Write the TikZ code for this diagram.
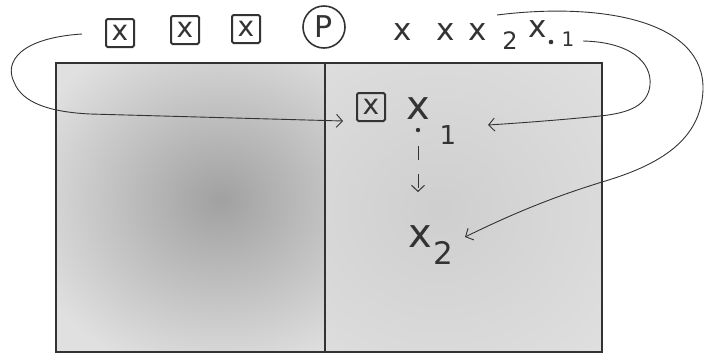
\documentclass[tikz,border=0pt]{standalone}
\usepackage{fontspec}
\setmainfont{DejaVu Sans}
\usetikzlibrary{arrows.meta}

\definecolor{pencil}{gray}{0.2}
\definecolor{paperlight}{gray}{0.88}
\definecolor{paperdark}{gray}{0.63}
\definecolor{papermid}{gray}{0.81}

\begin{document}
\begin{tikzpicture}[x=1pt,y=-1pt,
  glyph/.style={inner sep=0pt, text=pencil, font=\fontsize{#1}{#1}\selectfont},
  glyph/.default=31,
  boxed/.style={draw=pencil, line width=2pt, minimum size=28pt, inner sep=0pt,
    rounded corners=1.5pt, text=pencil, font=\fontsize{28}{28}\selectfont},
  ringed/.style={draw=pencil, circle, line width=1.6pt, minimum size=42pt, inner sep=0pt,
    text=pencil, font=\fontsize{30}{30}\selectfont},
  link/.style={draw=pencil, line width=0.9pt, -{Straight Barb[length=6pt,width=13pt]}},
  frame/.style={draw=pencil, line width=1.4pt}
]
\useasboundingbox (0,0) rectangle (707,357);

% shaded sheet: dark cloud on the left half, faint one on the right half
\fill[paperlight] (56,63) rectangle (602,352);
\begin{scope}
  \clip (56,63) rectangle (325,352);
  \shade[inner color=paperdark, outer color=paperlight] (220,200) ellipse (205 and 180);
\end{scope}
\begin{scope}
  \clip (325,63) rectangle (602,352);
  \shade[inner color=papermid, outer color=paperlight] (440,210) ellipse (240 and 220);
\end{scope}
\draw[frame] (56,63) rectangle (602,352);
\draw[pencil, line width=1.1pt] (325,63) -- (325,352);

% top row
\node[boxed] (b1) at (120,33) {x};
\node[boxed] (b2) at (185,30) {x};
\node[boxed] (b3) at (246,29) {x};
\node[ringed] (p) at (324,27) {P};
\node[glyph] (xa) at (403,32) {x};
\node[glyph] (xb) at (446,32) {x};
\node[glyph] (xc) at (478,32) {x};
\node[glyph=24] (s2) at (510,41) {2};
\node[glyph] (xd) at (538,29) {x};
\fill[pencil] (551,42) circle (2.3pt);
\node[glyph=20] (s1) at (568,39) {1};

% inside the sheet
\node[boxed] (ib) at (371,107) {x};
\node[glyph=40] (x1) at (418,109) {x};
\node[glyph=26] (o1) at (448,135) {1};
\fill[pencil] (418,130) circle (2.2pt) coordinate (d1);
\node[glyph=40] (x2) at (420,237) {x};
\node[glyph=31] (o2) at (443,253) {2};

% dashed step x1 -> x2
\draw[link, line width=1pt, dash pattern=on 14pt off 14pt] ([yshift=-16pt]d1) -- ([xshift=-2pt,yshift=45pt]x2.center);

% curved connectors
\coordinate (c1) at (82,34);
\draw[link] (c1) .. controls (20,38) and (4,62) .. (14,82)
  .. controls (22,103) and (50,112) .. (90,114) -- ([xshift=-28pt,yshift=-14pt]ib.center);

\draw[link] ([xshift=15pt,yshift=-2pt]s1.center) .. controls (630,42) and (652,62) .. (650,85)
  .. controls (648,105) and (630,113) .. (600,116)
  .. controls (560,120) and (520,123) .. ([xshift=40pt,yshift=10pt]o1.center);

\draw[link] ([xshift=-13pt,yshift=26pt]s2.center) .. controls (600,2) and (705,20) .. (703,90)
  .. controls (701,140) and (660,165) .. (602,182)
  .. controls (560,195) and (520,210) .. ([xshift=22pt,yshift=16pt]o2.center);
\end{tikzpicture}
\end{document}
